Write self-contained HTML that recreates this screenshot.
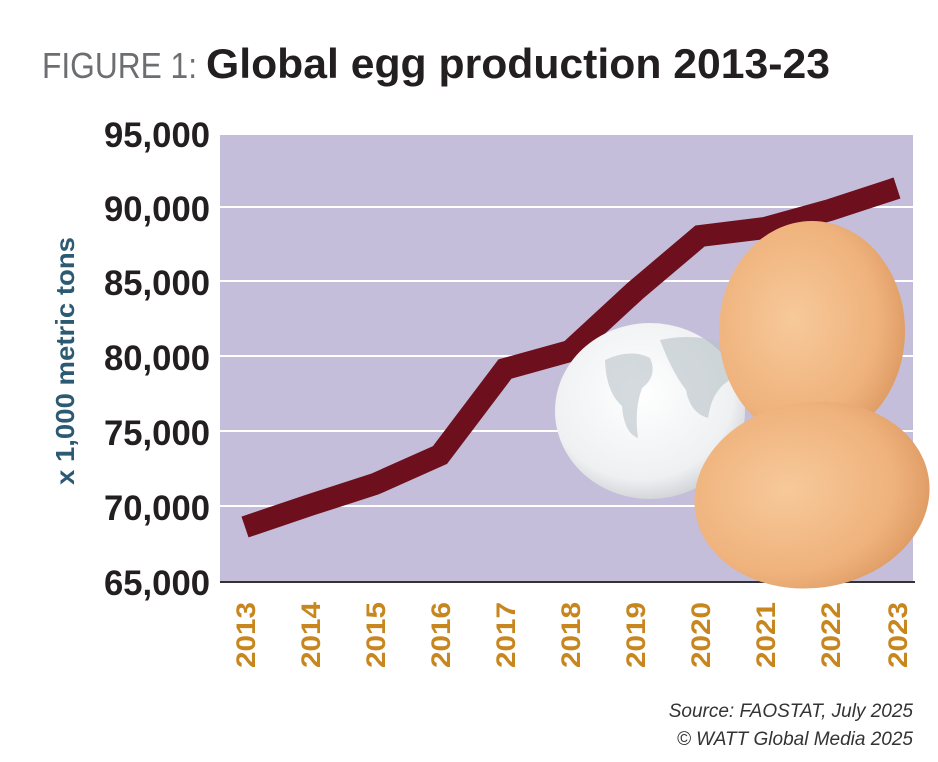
<!DOCTYPE html>
<html><head><style>
body{margin:0;width:938px;height:757px;background:#fff;overflow:hidden;font-family:"Liberation Sans",sans-serif;}
</style></head><body>
<svg width="938" height="757" viewBox="0 0 938 757" xmlns="http://www.w3.org/2000/svg">
<defs>
<radialGradient id="br" cx="40%" cy="45%" r="65%"><stop offset="0" stop-color="#f7c99a"/><stop offset="0.7" stop-color="#efb27c"/><stop offset="1" stop-color="#dc9860"/></radialGradient>
<radialGradient id="wh" cx="45%" cy="40%" r="65%"><stop offset="0" stop-color="#ffffff"/><stop offset="0.75" stop-color="#eef0f2"/><stop offset="1" stop-color="#c9ccd0"/></radialGradient>
</defs>
<text x="42" y="78" font-size="36" fill="#6d6e71" textLength="155" lengthAdjust="spacingAndGlyphs">FIGURE 1:</text>
<text x="206" y="78" font-size="42" font-weight="bold" fill="#231f20" textLength="624" lengthAdjust="spacingAndGlyphs">Global egg production 2013-23</text>
<rect x="220" y="135" width="693" height="447" fill="#c4bedb"/>
<g stroke="#ffffff" stroke-width="2">
<line x1="220" y1="207" x2="913" y2="207"/><line x1="220" y1="281" x2="913" y2="281"/>
<line x1="220" y1="356" x2="913" y2="356"/><line x1="220" y1="431" x2="913" y2="431"/>
<line x1="220" y1="506" x2="913" y2="506"/>
</g>
<line x1="220" y1="582" x2="915" y2="582" stroke="#333" stroke-width="2"/>
<g font-size="35" font-weight="bold" fill="#231f20">
<text x="104" y="147" textLength="106" lengthAdjust="spacingAndGlyphs">95,000</text>
<text x="104" y="221" textLength="106" lengthAdjust="spacingAndGlyphs">90,000</text>
<text x="104" y="295" textLength="106" lengthAdjust="spacingAndGlyphs">85,000</text>
<text x="104" y="370" textLength="106" lengthAdjust="spacingAndGlyphs">80,000</text>
<text x="104" y="445" textLength="106" lengthAdjust="spacingAndGlyphs">75,000</text>
<text x="104" y="520" textLength="106" lengthAdjust="spacingAndGlyphs">70,000</text>
<text x="104" y="595" textLength="106" lengthAdjust="spacingAndGlyphs">65,000</text>
</g>
<text transform="translate(74,485) rotate(-90)" font-size="26" font-weight="bold" fill="#2d5a73" textLength="248" lengthAdjust="spacingAndGlyphs">x 1,000 metric tons</text>
<polyline points="245,527 310,505 375,484 440,455 505,369 570,351 635,291 700,236 765,228 830,210 897,188" fill="none" stroke="#6e0f1e" stroke-width="22" stroke-linejoin="miter"/>
<ellipse cx="650" cy="411" rx="95" ry="88" fill="url(#wh)"/>
<g fill="#b9c3c8" opacity="0.6">
<path d="M605,360 q25,-12 45,-2 q8,18 -8,30 q-8,22 -4,50 q-14,-5 -16,-32 q-16,-14 -17,-46z"/>
<path d="M660,340 q35,-8 70,5 l0,35 q-18,10 -22,38 q-18,-5 -22,-28 q-14,-18 -26,-50z"/>
</g>
<ellipse cx="812" cy="331" rx="93" ry="110" fill="url(#br)"/>
<ellipse cx="812" cy="495" rx="118" ry="93" fill="url(#br)" transform="rotate(-8 812 495)"/>
<g font-size="27" font-weight="bold" fill="#c8861e">
<text transform="translate(255,668) rotate(-90)" textLength="66" lengthAdjust="spacingAndGlyphs">2013</text>
<text transform="translate(320,668) rotate(-90)" textLength="66" lengthAdjust="spacingAndGlyphs">2014</text>
<text transform="translate(385,668) rotate(-90)" textLength="66" lengthAdjust="spacingAndGlyphs">2015</text>
<text transform="translate(450,668) rotate(-90)" textLength="66" lengthAdjust="spacingAndGlyphs">2016</text>
<text transform="translate(515,668) rotate(-90)" textLength="66" lengthAdjust="spacingAndGlyphs">2017</text>
<text transform="translate(580,668) rotate(-90)" textLength="66" lengthAdjust="spacingAndGlyphs">2018</text>
<text transform="translate(645,668) rotate(-90)" textLength="66" lengthAdjust="spacingAndGlyphs">2019</text>
<text transform="translate(710,668) rotate(-90)" textLength="66" lengthAdjust="spacingAndGlyphs">2020</text>
<text transform="translate(775,668) rotate(-90)" textLength="66" lengthAdjust="spacingAndGlyphs">2021</text>
<text transform="translate(840,668) rotate(-90)" textLength="66" lengthAdjust="spacingAndGlyphs">2022</text>
<text transform="translate(907,668) rotate(-90)" textLength="66" lengthAdjust="spacingAndGlyphs">2023</text>
</g>
<g font-size="19" font-style="italic" fill="#333" text-anchor="end">
<text x="913" y="717">Source: FAOSTAT, July 2025</text>
<text x="913" y="745">© WATT Global Media 2025</text>
</g>
</svg>
</body></html>
